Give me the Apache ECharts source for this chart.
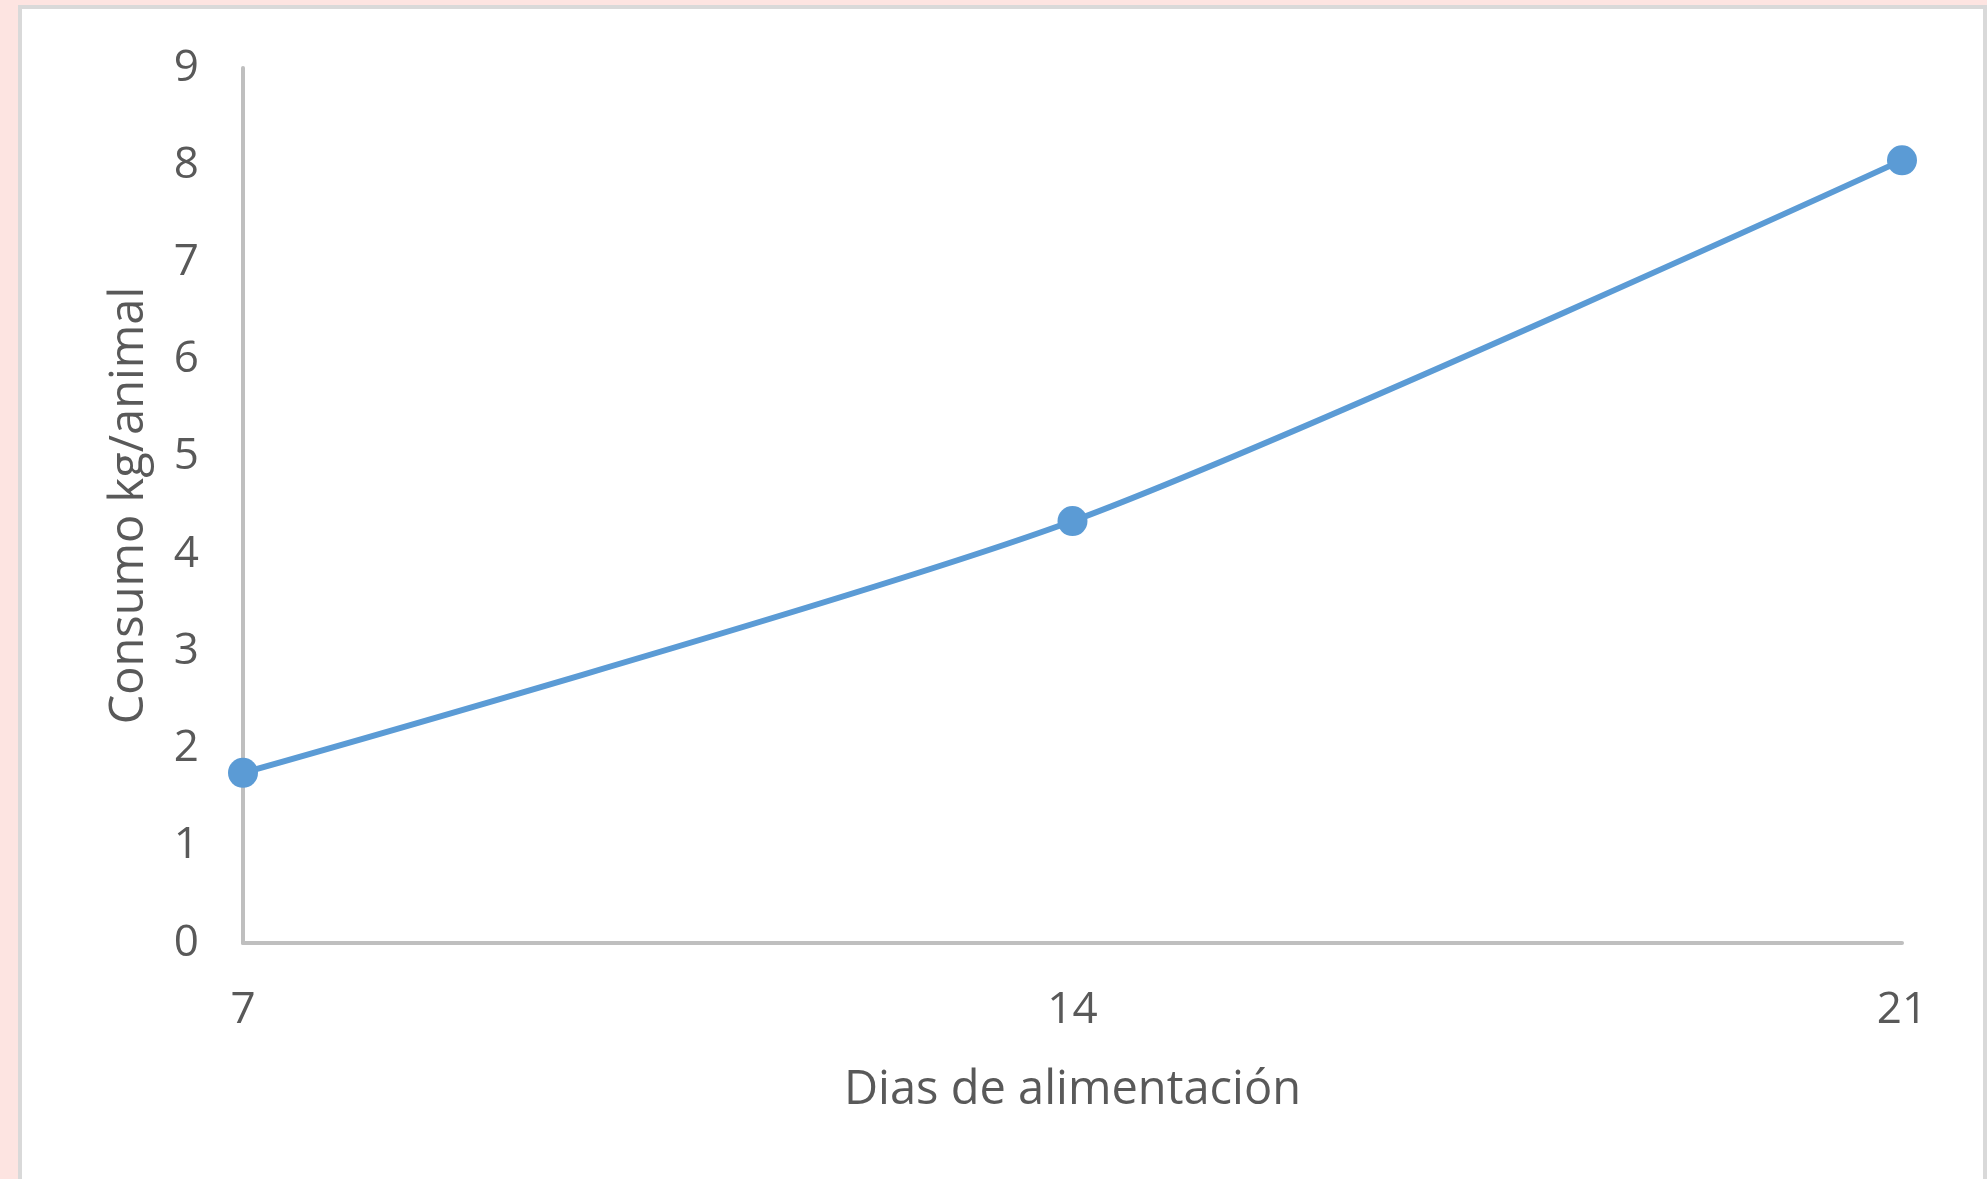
<!DOCTYPE html>
<html>
<head>
<meta charset="utf-8">
<script src="https://cdn.jsdelivr.net/npm/echarts@6/dist/echarts.min.js"></script>
<style>
  html, body { margin: 0; padding: 0; width: 1987px; height: 1179px; background: #fde4e1; overflow: hidden; }
  #panel { position: absolute; left: 18px; top: 5px; width: 1961px; height: 1200px; background: #ffffff; border: 4px solid #d9d9d9; }
  #chart { position: absolute; left: 0; top: 0; width: 1987px; height: 1179px; }
</style>
</head>
<body>
<div id="panel"></div>
<div id="chart"></div>
<script>
const days = ['7', '14', '21'];
const consumo = [1.75, 4.34, 8.05];
const yTicks = { min: 0, max: 9, interval: 1 };
const xTitle = 'Dias de alimentación';
const yTitle = 'Consumo kg/animal';

const FONT = '"Open Sans", "Noto Sans", sans-serif';
const TXT = '#595959';
const AX = '#bfbfbf';

const chart = echarts.init(document.getElementById('chart'), null, { renderer: 'canvas' });
chart.setOption({
  backgroundColor: 'transparent',
  animation: false,
  grid: { left: 243, right: 85, top: 68, bottom: 236, containLabel: false },
  xAxis: {
    type: 'category',
    data: days,
    boundaryGap: false,
    name: xTitle,
    nameLocation: 'middle',
    nameGap: 124,
    nameTextStyle: { color: TXT, fontFamily: FONT, fontSize: 47 },
    axisLine: { show: true, lineStyle: { color: AX, width: 4 } },
    axisTick: { show: false },
    axisLabel: { color: TXT, fontFamily: FONT, fontSize: 44, margin: 45 },
    splitLine: { show: false }
  },
  yAxis: {
    type: 'value',
    min: yTicks.min,
    max: yTicks.max,
    interval: yTicks.interval,
    name: yTitle,
    nameLocation: 'middle',
    nameRotate: 90,
    nameGap: 90,
    nameTextStyle: { color: TXT, fontFamily: FONT, fontSize: 47 },
    axisLine: { show: true, lineStyle: { color: AX, width: 4 } },
    axisTick: { show: false },
    axisLabel: { color: TXT, fontFamily: FONT, fontSize: 44, margin: 44 },
    splitLine: { show: false }
  },
  series: [{
    type: 'line',
    data: consumo,
    smooth: 0.25,
    symbol: 'circle',
    symbolSize: 30,
    lineStyle: { color: '#5b9bd5', width: 6 },
    itemStyle: { color: '#5b9bd5' }
  }]
});
</script>
</body>
</html>
